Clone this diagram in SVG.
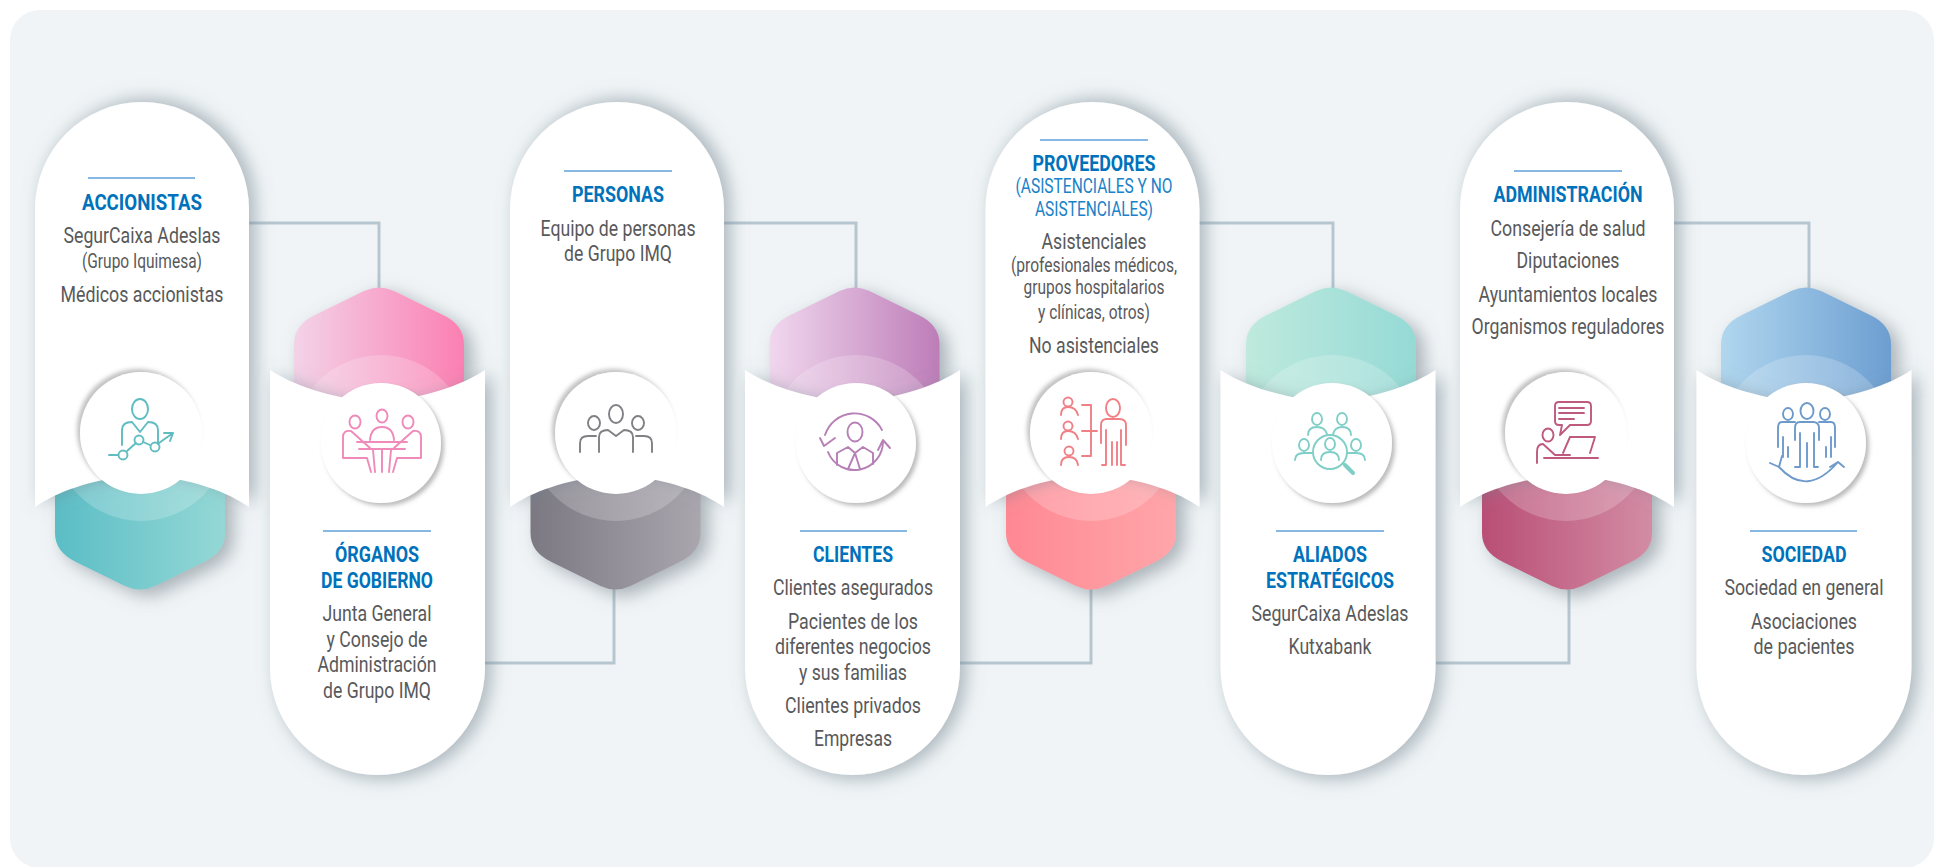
<svg xmlns="http://www.w3.org/2000/svg" width="1934" height="867" viewBox="0 0 1934 867">
<style>
text{font-family:Roboto,"Liberation Sans",sans-serif;text-anchor:middle}
.h{font-size:22px;font-weight:700;fill:#0072bc}
.s{font-size:19.500px;fill:#1a82c8}
.b{font-size:22px;fill:#58595b}
.m{font-size:19.500px;fill:#58595b}
.r{stroke:#5f9fdd;stroke-width:1.3;fill:none}
.c{fill:none;stroke:#b5c6cf;stroke-width:3}
.ha{fill:#fff;fill-opacity:.2}
.pa{fill:#fff;filter:url(#ps)}
.pb{fill:#fff;filter:url(#pt)}
.hx{filter:url(#hs)}
.cu{fill:#fff;filter:url(#cu)}
.cd{fill:#fff;filter:url(#cd)}
.i{fill:none;stroke-width:1.900;stroke-linecap:round;stroke-linejoin:round}
</style>
<defs>
<filter id="ps" x="-25%" y="-15%" width="150%" height="130%"><feDropShadow dx="6" dy="-3" stdDeviation="9" flood-color="#71838f" flood-opacity=".55"/></filter>
<filter id="pt" x="-25%" y="-15%" width="150%" height="130%"><feDropShadow dx="6" dy="4" stdDeviation="9" flood-color="#71838f" flood-opacity=".55"/></filter>
<filter id="hs" x="-25%" y="-25%" width="150%" height="150%"><feDropShadow dx="8" dy="6" stdDeviation="9" flood-color="#6d7a84" flood-opacity=".55"/></filter>
<filter id="cu" x="-20%" y="-20%" width="140%" height="140%"><feDropShadow dx="-3" dy="-3" stdDeviation="2" flood-color="#777" flood-opacity=".45"/></filter>
<filter id="cd" x="-20%" y="-20%" width="140%" height="140%"><feDropShadow dx="3" dy="3" stdDeviation="2" flood-color="#777" flood-opacity=".5"/></filter>
<linearGradient id="g1"><stop offset="0" stop-color="#5bbdc6"/><stop offset="1" stop-color="#94d8d5"/></linearGradient>
<linearGradient id="g2"><stop offset="0" stop-color="#f3d3e8"/><stop offset="1" stop-color="#fb7fb2"/></linearGradient>
<linearGradient id="g3"><stop offset="0" stop-color="#7b7882"/><stop offset="1" stop-color="#aaa6ae"/></linearGradient>
<linearGradient id="g4"><stop offset="0" stop-color="#f1d7ee"/><stop offset="1" stop-color="#bd7db8"/></linearGradient>
<linearGradient id="g5"><stop offset="0" stop-color="#ff8893"/><stop offset="1" stop-color="#ffa6aa"/></linearGradient>
<linearGradient id="g6"><stop offset="0" stop-color="#bfeadd"/><stop offset="1" stop-color="#95dad6"/></linearGradient>
<linearGradient id="g7"><stop offset="0" stop-color="#b94e75"/><stop offset="1" stop-color="#d38ca4"/></linearGradient>
<linearGradient id="g8"><stop offset="0" stop-color="#b1d7ef"/><stop offset="1" stop-color="#6c9ed1"/></linearGradient>
<path id="pu" d="M-107 107A107 107 0 0 1 107 107V405C85 390 55 378 0 372C-55 378 -85 390 -107 405Z"/>
<path id="pd" d="M-107.500 -405C-85 -390 -50 -378 0 -372C50 -378 85 -390 107.500 -405V-107A107.500 107 0 0 1 -107.500 -107Z"/>
<path id="hd" d="M-85 -150V-57Q-85 -38 -64 -28L-15 -4Q0 3 15 -4L64 -28Q85 -38 85 -57V-150Z"/>
<path id="ht" d="M-85 150V57Q-85 38 -64 28L-15 4Q0 -3 15 4L64 28Q85 38 85 57V150Z"/>
</defs>
<rect x="10" y="10" width="1924" height="858" rx="30" fill="#f0f4f6"/>
<g id="connectors">
<path class="c" d="M249 223H379V290"/>
<path class="c" d="M724 223H856V290"/>
<path class="c" d="M1198 223H1333V290"/>
<path class="c" d="M1673 223H1809V290"/>
<path class="c" d="M485 663H614V588"/>
<path class="c" d="M960 663H1091V588"/>
<path class="c" d="M1436 663H1569V588"/>
</g>
<g id="node-accionistas">
<use href="#hd" class="hx" fill="url(#g1)" x="140" y="590"/>
<circle class="ha" cx="141" cy="433" r="88"/>
<use href="#pu" class="pa" x="142" y="102"/>
<circle class="cu" cx="141" cy="433" r="61"/>
<g class="i" stroke="#5fbcc0" transform="translate(141 433)"><ellipse cx="-1" cy="-24" rx="8" ry="10"/><path d="M-19 12V-3Q-19 -11 -9 -11L-1 -1L7 -11Q17 -11 17 -3V11"/><path d="M-32 22H-23M-14 18L-5 10M2 9L9 12M18 10L32 0M23 0H32L29 8"/><circle cx="-18" cy="22" r="4.500"/><circle cx="-2" cy="7" r="4.500"/><circle cx="14" cy="14" r="4.500"/></g>
<path class="r" d="M88 178H195"/>
<text class="h" x="142" y="210" textLength="120" lengthAdjust="spacingAndGlyphs">ACCIONISTAS</text>
<text class="b" x="142" y="243" textLength="157" lengthAdjust="spacingAndGlyphs">SegurCaixa Adeslas</text>
<text class="m" x="142" y="268" textLength="120" lengthAdjust="spacingAndGlyphs">(Grupo Iquimesa)</text>
<text class="b" x="142" y="302" textLength="163" lengthAdjust="spacingAndGlyphs">Médicos accionistas</text>
</g>
<g id="node-organos">
<use href="#ht" class="hx" fill="url(#g2)" x="379" y="287"/>
<circle class="ha" cx="381" cy="443" r="88"/>
<use href="#pd" class="pb" x="377.500" y="775"/>
<circle class="cd" cx="381" cy="443" r="60"/>
<g class="i" stroke="#f08ab8" transform="translate(381 443)"><ellipse cx="-26" cy="-21" rx="5.500" ry="6.500"/><ellipse cx="1" cy="-27" rx="5.500" ry="6.500"/><ellipse cx="27" cy="-21" rx="5.500" ry="6.500"/><path d="M-11 -3Q-10 -16 1 -16Q12 -16 13 -3M-24 -1H26M-22 6H24M-8 7L-6 29M1 7V29M10 7L8 29"/><path d="M-14 15L-10 29M-38 15H-14M-38 15V-6Q-38 -13 -30 -12L-11 5"/><path d="M16 15L12 29M40 15H16M40 15V-6Q40 -13 32 -12L13 5"/></g>
<path class="r" d="M323 531H431"/>
<text class="h" x="377" y="562" textLength="84" lengthAdjust="spacingAndGlyphs">ÓRGANOS</text>
<text class="h" x="377" y="588" textLength="112" lengthAdjust="spacingAndGlyphs">DE GOBIERNO</text>
<text class="b" x="377" y="621" textLength="109" lengthAdjust="spacingAndGlyphs">Junta General</text>
<text class="b" x="377" y="647" textLength="101" lengthAdjust="spacingAndGlyphs">y Consejo de</text>
<text class="b" x="377" y="672" textLength="119" lengthAdjust="spacingAndGlyphs">Administración</text>
<text class="b" x="377" y="698" textLength="108" lengthAdjust="spacingAndGlyphs">de Grupo IMQ</text>
</g>
<g id="node-personas">
<use href="#hd" class="hx" fill="url(#g3)" x="615.500" y="590"/>
<circle class="ha" cx="616" cy="433" r="88"/>
<use href="#pu" class="pa" x="617" y="102"/>
<circle class="cu" cx="616" cy="433" r="61"/>
<g class="i" stroke="#808085" transform="translate(616 433)"><ellipse cx="0" cy="-19" rx="7" ry="9"/><ellipse cx="22" cy="-10" rx="6" ry="7"/><ellipse cx="-22" cy="-10" rx="6" ry="7"/><path d="M-17 19V4Q-17 -3 -8 -3L0 3L8 -3Q17 -3 17 4V19"/><path d="M20 3H28Q36 3 36 10V19M-20 3H-28Q-36 3 -36 10V19"/></g>
<path class="r" d="M564 171H672"/>
<text class="h" x="618" y="202" textLength="92" lengthAdjust="spacingAndGlyphs">PERSONAS</text>
<text class="b" x="618" y="236" textLength="155" lengthAdjust="spacingAndGlyphs">Equipo de personas</text>
<text class="b" x="618" y="261" textLength="108" lengthAdjust="spacingAndGlyphs">de Grupo IMQ</text>
</g>
<g id="node-clientes">
<use href="#ht" class="hx" fill="url(#g4)" x="854.500" y="287"/>
<circle class="ha" cx="856" cy="443" r="88"/>
<use href="#pd" class="pb" x="852.500" y="775"/>
<circle class="cd" cx="856" cy="443" r="60"/>
<g class="i" stroke="#b67fb6" transform="translate(856 443)"><ellipse cx="-1" cy="-11" rx="7.500" ry="9.500"/><path d="M-31 -8A31 31 0 0 1 26 -13M-36 -5L-32 3L-21 -5M-28 9A28.500 28.500 0 0 0 27 -2M22 7L27 -3L34 5"/><path d="M-19 22V10L-8 4L-1 10L7 4L17 10V21M-1 10L-8 26M-1 10L4 26"/></g>
<path class="r" d="M800 531H907"/>
<text class="h" x="853" y="562" textLength="80" lengthAdjust="spacingAndGlyphs">CLIENTES</text>
<text class="b" x="853" y="595" textLength="160" lengthAdjust="spacingAndGlyphs">Clientes asegurados</text>
<text class="b" x="853" y="629" textLength="130" lengthAdjust="spacingAndGlyphs">Pacientes de los</text>
<text class="b" x="853" y="654" textLength="156" lengthAdjust="spacingAndGlyphs">diferentes negocios</text>
<text class="b" x="853" y="680" textLength="108" lengthAdjust="spacingAndGlyphs">y sus familias</text>
<text class="b" x="853" y="713" textLength="136" lengthAdjust="spacingAndGlyphs">Clientes privados</text>
<text class="b" x="853" y="746" textLength="78" lengthAdjust="spacingAndGlyphs">Empresas</text>
</g>
<g id="node-proveedores">
<use href="#hd" class="hx" fill="url(#g5)" x="1091" y="590"/>
<circle class="ha" cx="1091" cy="433" r="88"/>
<use href="#pu" class="pa" x="1092.500" y="102"/>
<circle class="cu" cx="1091" cy="433" r="61"/>
<g class="i" stroke="#f07f86" transform="translate(1091 433)"><circle cx="-23" cy="-31" r="4.500"/><circle cx="-23" cy="-7" r="4.500"/><circle cx="-22" cy="18" r="4.500"/><path d="M-30 -18Q-30 -26 -23 -26Q-15 -26 -13 -18M-30 6Q-30 -2 -23 -2Q-15 -2 -13 6M-30 32Q-30 24 -22 24Q-14 24 -13 32"/><path d="M-9 -28H0V23H-9M-9 -2H6"/><ellipse cx="22" cy="-25" rx="7" ry="9"/><path d="M10 10V-8Q10 -14 16 -14H28Q35 -14 35 -8V12M15 -3V32H11M21 9V32M26 9V32M30 -3V32H34"/></g>
<path class="r" d="M1040 140H1148"/>
<text class="h" x="1094" y="171" textLength="123" lengthAdjust="spacingAndGlyphs">PROVEEDORES</text>
<text class="s" x="1094" y="193" textLength="157" lengthAdjust="spacingAndGlyphs">(ASISTENCIALES Y NO</text>
<text class="s" x="1094" y="216" textLength="118" lengthAdjust="spacingAndGlyphs">ASISTENCIALES)</text>
<text class="b" x="1094" y="249" textLength="105" lengthAdjust="spacingAndGlyphs">Asistenciales</text>
<text class="m" x="1094" y="272" textLength="166" lengthAdjust="spacingAndGlyphs">(profesionales médicos,</text>
<text class="m" x="1094" y="294" textLength="141" lengthAdjust="spacingAndGlyphs">grupos hospitalarios</text>
<text class="m" x="1094" y="319" textLength="112" lengthAdjust="spacingAndGlyphs">y clínicas, otros)</text>
<text class="b" x="1094" y="353" textLength="130" lengthAdjust="spacingAndGlyphs">No asistenciales</text>
</g>
<g id="node-aliados">
<use href="#ht" class="hx" fill="url(#g6)" x="1331" y="287"/>
<circle class="ha" cx="1332" cy="443" r="88"/>
<use href="#pd" class="pb" x="1328" y="775"/>
<circle class="cd" cx="1332" cy="443" r="60"/>
<g class="i" stroke="#7fcfc8" transform="translate(1332 443)"><ellipse cx="-15" cy="-24" rx="5" ry="6"/><ellipse cx="10" cy="-24" rx="5" ry="6"/><ellipse cx="-28" cy="2" rx="5" ry="6"/><ellipse cx="24" cy="2" rx="5" ry="6"/><circle cx="-2" cy="9" r="17"/><ellipse cx="-2" cy="1" rx="5" ry="6"/><path d="M-11 17Q-11 9 -2 9Q7 9 7 17M-24 -8Q-24 -16 -15 -16Q-7 -16 -5 -9M1 -9Q3 -16 10 -16Q19 -16 19 -8M-37 17Q-37 10 -28 10H-20M33 17Q33 10 24 10H16M11 20L13 22"/><path stroke-width="4" d="M13 22L21 30"/></g>
<path class="r" d="M1276 531H1384"/>
<text class="h" x="1330" y="562" textLength="74" lengthAdjust="spacingAndGlyphs">ALIADOS</text>
<text class="h" x="1330" y="588" textLength="128" lengthAdjust="spacingAndGlyphs">ESTRATÉGICOS</text>
<text class="b" x="1330" y="621" textLength="157" lengthAdjust="spacingAndGlyphs">SegurCaixa Adeslas</text>
<text class="b" x="1330" y="654" textLength="83" lengthAdjust="spacingAndGlyphs">Kutxabank</text>
</g>
<g id="node-administracion">
<use href="#hd" class="hx" fill="url(#g7)" x="1567" y="590"/>
<circle class="ha" cx="1566" cy="433" r="88"/>
<use href="#pu" class="pa" x="1567" y="102"/>
<circle class="cu" cx="1566" cy="433" r="61"/>
<g class="i" stroke="#bd5a7e" transform="translate(1566 433)"><path d="M-11 -27Q-11 -31 -7 -31H21Q25 -31 25 -27V-12Q25 -8 21 -8H4L-6 2L-4 -8H-7Q-11 -8 -11 -12Z"/><path d="M-7 -25H18M-7 -20H18M-7 -14H8"/><ellipse cx="-18" cy="2" rx="5.500" ry="6.500"/><path d="M-29 30V19Q-29 11 -23 11L-11 22H4M-22 25H32M4 4H29L24 20M4 4L-3 20"/></g>
<path class="r" d="M1514 171H1622"/>
<text class="h" x="1568" y="202" textLength="149" lengthAdjust="spacingAndGlyphs">ADMINISTRACIÓN</text>
<text class="b" x="1568" y="236" textLength="155" lengthAdjust="spacingAndGlyphs">Consejería de salud</text>
<text class="b" x="1568" y="268" textLength="103" lengthAdjust="spacingAndGlyphs">Diputaciones</text>
<text class="b" x="1568" y="302" textLength="179" lengthAdjust="spacingAndGlyphs">Ayuntamientos locales</text>
<text class="b" x="1568" y="334" textLength="193" lengthAdjust="spacingAndGlyphs">Organismos reguladores</text>
</g>
<g id="node-sociedad">
<use href="#ht" class="hx" fill="url(#g8)" x="1806" y="287"/>
<circle class="ha" cx="1806" cy="443" r="88"/>
<use href="#pd" class="pb" x="1804" y="775"/>
<circle class="cd" cx="1806" cy="443" r="60"/>
<g class="i" stroke="#6d9acb" transform="translate(1806 443)"><ellipse cx="1" cy="-32" rx="6.500" ry="8"/><ellipse cx="-18" cy="-29" rx="5" ry="6"/><ellipse cx="19" cy="-29" rx="5" ry="6"/><path d="M-11 -3V-15Q-11 -21 -6 -21H7Q13 -21 13 -15V-3M-6 -10V24H-11M1 0V24M8 -10V24H12"/><path d="M-28 4V-15Q-28 -21 -24 -21H-11M-23 -6V14M-18 4V14M29 4V-15Q29 -21 25 -21H13M25 -6V14M20 4V14"/><path d="M-27 24Q1 55 32 19M24 24L32 19L38 24M-36 20L-27 24L-24 13"/></g>
<path class="r" d="M1750 531H1857"/>
<text class="h" x="1804" y="562" textLength="85" lengthAdjust="spacingAndGlyphs">SOCIEDAD</text>
<text class="b" x="1804" y="595" textLength="159" lengthAdjust="spacingAndGlyphs">Sociedad en general</text>
<text class="b" x="1804" y="629" textLength="106" lengthAdjust="spacingAndGlyphs">Asociaciones</text>
<text class="b" x="1804" y="654" textLength="101" lengthAdjust="spacingAndGlyphs">de pacientes</text>
</g>
</svg>
